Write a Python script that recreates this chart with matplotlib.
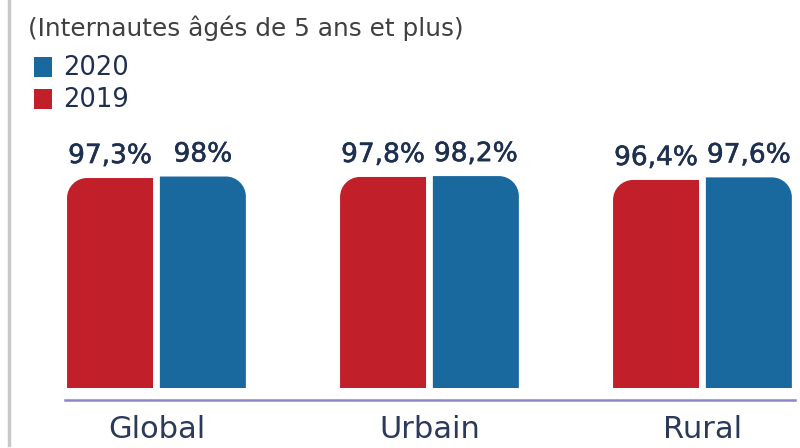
import matplotlib.pyplot as plt
import matplotlib.patheffects as pe
import numpy as np
from matplotlib.path import Path
from matplotlib.patches import PathPatch, Rectangle
from matplotlib.transforms import IdentityTransform
from matplotlib.lines import Line2D

# données
categories = ['Global', 'Urbain', 'Rural']
val_2019 = [97.3, 97.8, 96.4]
val_2020 = [98.0, 98.2, 97.6]
lab_2019 = ['97,3%', '97,8%', '96,4%']
lab_2020 = ['98%', '98,2%', '97,6%']

RED = '#C1202A'
BLUE = '#19689E'
NAVY = '#1E3050'

plt.rcParams['font.family'] = ['DejaVu Sans']

W, H = 800, 448
fig = plt.figure(figsize=(W / 100, H / 100), dpi=100)

# axes: pixel 65..795 horizontally, 400 (ligne de base) .. 130 vertically
ax = fig.add_axes([65 / W, (H - 400) / H, (795 - 65) / W, (400 - 130) / H])
ppu = 2.158  # pixels par %
ax.set_xlim(-0.335, 2.339)
ax.set_ylim(-12 / ppu, (388 - 130) / ppu)

x = np.arange(len(categories))
bw = 0.315
off = 0.170
bars19 = ax.bar(x - off, val_2019, bw, color=RED)
bars20 = ax.bar(x + off, val_2020, bw, color=BLUE)

for spine in ['top', 'right', 'left']:
    ax.spines[spine].set_visible(False)
ax.spines['bottom'].set_color('#8A86C8')
ax.spines['bottom'].set_linewidth(1.8)
ax.set_yticks([])
ax.set_xticks(x)
ax.set_xticklabels(categories, fontsize=22, color='#2B3A58')
ax.tick_params(axis='x', length=0, pad=11)
ax.patch.set_alpha(0)

# valeurs au-dessus des barres
medium = [pe.withStroke(linewidth=0.4, foreground=NAVY)]
for bars, labels in [(bars19, lab_2019), (bars20, lab_2020)]:
    for b, t in zip(bars, labels):
        ax.annotate(t, (b.get_x() + b.get_width() / 2, b.get_height()),
                    xytext=(0, 15), textcoords='offset pixels', ha='center',
                    va='baseline', fontsize=19, color=NAVY, path_effects=medium)

# coins supérieurs extérieurs arrondis
fig.canvas.draw()
r = 20
k = 0.5523


def rounded(bar, tl, tr):
    bb = bar.get_window_extent()
    x0, y0, x1, y1 = bb.x0, bb.y0, bb.x1, bb.y1
    verts = [(x0, y0), (x1, y0)]
    codes = [Path.MOVETO, Path.LINETO]
    if tr:
        verts += [(x1, y1 - r), (x1, y1 - r + k * r), (x1 - r + k * r, y1), (x1 - r, y1)]
        codes += [Path.LINETO, Path.CURVE4, Path.CURVE4, Path.CURVE4]
    else:
        verts += [(x1, y1)]
        codes += [Path.LINETO]
    if tl:
        verts += [(x0 + r, y1), (x0 + r - k * r, y1), (x0, y1 - r + k * r), (x0, y1 - r)]
        codes += [Path.LINETO, Path.CURVE4, Path.CURVE4, Path.CURVE4]
    else:
        verts += [(x0, y1)]
        codes += [Path.LINETO]
    verts += [(x0, y0)]
    codes += [Path.CLOSEPOLY]
    p = PathPatch(Path(verts, codes), facecolor=bar.get_facecolor(),
                  edgecolor='none', transform=IdentityTransform())
    fig.add_artist(p)
    bar.set_visible(False)


for b in bars19:
    rounded(b, True, False)
for b in bars20:
    rounded(b, False, True)

# ligne grise à gauche
fig.add_artist(Line2D([9 / W, 9 / W], [3 / H, 1], color='#C8C8C8', lw=2.5))

# titre et légende
fig.text(28 / W, 1 - 28 / H, '(Internautes âgés de 5 ans et plus)', fontsize=17.8,
         color='#404040', va='center', ha='left')
fig.add_artist(Rectangle((34 / W, 1 - 77 / H), 18 / W, 20 / H,
                         transform=fig.transFigure, facecolor=BLUE))
fig.add_artist(Rectangle((34 / W, 1 - 109 / H), 18 / W, 20 / H,
                         transform=fig.transFigure, facecolor=RED))
fig.text(63 / W, 1 - 68 / H, '2020', fontsize=18.5, color=NAVY, va='center')
fig.text(63 / W, 1 - 100 / H, '2019', fontsize=18.5, color=NAVY, va='center')

fig.savefig('out.png', dpi=100)
